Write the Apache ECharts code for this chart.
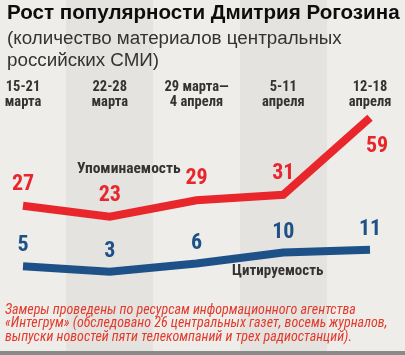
<!DOCTYPE html>
<html>
<head>
<meta charset="utf-8">
<script src="https://cdn.jsdelivr.net/npm/echarts@6/dist/echarts.min.js"></script>
<style>
html,body{margin:0;padding:0;background:#eeede9;}
#c{width:405px;height:355px;}
</style>
</head>
<body>
<div id="c"></div>
<script>
var categories = ['15-21\nмарта', '22-28\nмарта', '29 марта—\n4 апреля', '5-11\nапреля', '12-18\nапреля'];
var mentions = [27, 23, 29, 31, 59];
var citations = [5, 3, 6, 10, 11];
var bandCols = ['b2', 'b3', 'b4'];
var bandVals = [1, 0, 1];

var COND = '"Roboto Condensed", "Liberation Sans Narrow", "DejaVu Sans Condensed", Roboto, sans-serif';
var RED = '#e8262b';
var BLUE = '#1d5187';

var mentionData = mentions.map(function (v, i) {
  return i === mentions.length - 1 ? {value: v, label: {position: 'bottom', distance: 17, offset: [7, 0]}} : v;
});

var chart = echarts.init(document.getElementById('c'), null, {renderer: 'canvas'});
chart.setOption({
  backgroundColor: '#eeede9',
  animation: false,
  title: {
    text: 'Рост популярности Дмитрия Рогозина',
    left: 7, top: 3, padding: 0,
    textStyle: {fontFamily: '"Liberation Sans", Arial, sans-serif', fontWeight: 900, fontSize: 20.6, color: '#0d0d0d'},
    subtext: '(количество материалов центральных\nроссийских СМИ)',
    subtextStyle: {fontFamily: '"Liberation Sans", Arial, sans-serif', fontSize: 18.8, lineHeight: 22, color: '#333'},
    itemGap: 4
  },
  grid: [
    {left: 23, right: 35, top: 115, bottom: 75},
    {left: 66, right: 78, top: 0, bottom: 4}
  ],
  xAxis: [
    {type: 'category', data: categories, boundaryGap: false, position: 'top', gridIndex: 0,
     axisLine: {show: false}, axisTick: {show: false}, splitLine: {show: false},
     axisLabel: {show: true, margin: 5, interval: 0, fontFamily: COND, fontWeight: 'bold condensed', fontSize: 14.5, lineHeight: 15, color: '#333'}},
    {type: 'category', data: bandCols, boundaryGap: true, gridIndex: 1, show: false}
  ],
  yAxis: [
    {type: 'value', min: 0, max: 60, gridIndex: 0, show: false},
    {type: 'value', min: 0, max: 1, gridIndex: 1, show: false}
  ],
  graphic: [
    {type: 'rect', left: 0, top: 351, shape: {width: 405, height: 4}, style: {fill: '#8a8a88'}, z: 10},
    {type: 'text', left: 77, top: 161, style: {text: 'Упоминаемость', font: 'normal bold condensed 15.5px ' + COND, fill: '#333'}, z: 10},
    {type: 'text', left: 232, top: 264, style: {text: 'Цитируемость', font: 'normal bold condensed 15px ' + COND, fill: '#333'}, z: 10},
    {type: 'text', left: 5, top: 303, style: {text: 'Замеры проведены по ресурсам информационного агентства\n«Интегрум» (обследовано 26 центральных газет, восемь журналов,\nвыпуски новостей пяти телекомпаний и трех радиостанций).',
      font: 'italic normal condensed 14px ' + COND, lineHeight: 13.7, fill: '#e33a2c'}, z: 10}
  ],
  series: [
    {type: 'bar', xAxisIndex: 1, yAxisIndex: 1, data: bandVals, barCategoryGap: '0%', silent: true, z: 0,
     itemStyle: {color: '#e4e3df'}},
    {type: 'line', name: 'Упоминаемость', data: mentionData, symbol: 'circle', symbolSize: 1, showSymbol: true, z: 3,
     itemStyle: {color: 'rgba(0,0,0,0)'},
     lineStyle: {color: RED, width: 8, cap: 'butt', join: 'miter'},
     label: {show: true, position: 'top', distance: 10, fontFamily: COND, fontWeight: 'bold condensed', fontSize: 22, color: RED}},
    {type: 'line', name: 'Цитируемость', data: citations, symbol: 'circle', symbolSize: 1, showSymbol: true, z: 3,
     itemStyle: {color: 'rgba(0,0,0,0)'},
     lineStyle: {color: BLUE, width: 8, cap: 'butt', join: 'miter'},
     label: {show: true, position: 'top', distance: 9, fontFamily: COND, fontWeight: 'bold condensed', fontSize: 22, color: BLUE}}
  ]
});
</script>
</body>
</html>
